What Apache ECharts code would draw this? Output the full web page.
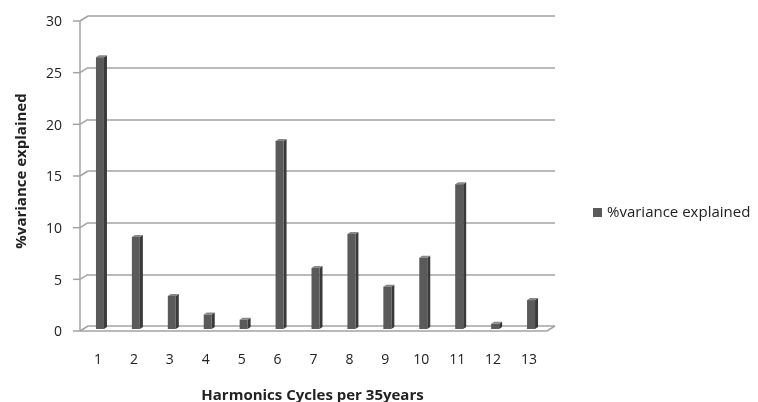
<!DOCTYPE html>
<html>
<head>
<meta charset="utf-8">
<script src="https://cdn.jsdelivr.net/npm/echarts@6/dist/echarts.min.js"></script>
<style>
  html, body { margin: 0; padding: 0; background: #fff; }
  #chart { width: 758px; height: 402px; }
</style>
</head>
<body>
<div id="chart"></div>
<script>
// harmonics 1..13 and % variance explained
const categories = ['1', '2', '3', '4', '5', '6', '7', '8', '9', '10', '11', '12', '13'];
const variance = [26.3, 8.9, 3.2, 1.4, 0.9, 18.2, 5.9, 9.2, 4.1, 6.9, 14.0, 0.5, 2.8];
const yTicks = [0, 5, 10, 15, 20, 25, 30];

const seriesName = '%variance explained';
const font = '"Open Sans", sans-serif';
const lineGray = '#a3a3a3';
const DX = 8, DY = 5;   // front-to-back offset of the 3d frame

const chart = echarts.init(document.getElementById('chart'));

// bars: front face, darker side and light top
function renderBar(params, api) {
    const top = api.coord([api.value(0), api.value(1)]);
    const base = api.coord([api.value(0), 0]);
    const x0 = top[0] - 10, x1 = top[0] - 2;
    const yT = top[1] + 3, yB = base[1] + 3;
    const d = 3, dy = 2;
    return {
        type: 'group',
        children: [
            { type: 'polygon', shape: { points: [[x1, yT], [x1 + d, yT - dy], [x1 + d, yB - dy], [x1, yB]] },
              style: { fill: '#3a3a3a' } },
            { type: 'polygon', shape: { points: [[x0, yT], [x0 + d, yT - dy], [x1 + d, yT - dy], [x1, yT]] },
              style: { fill: '#888888' } },
            { type: 'rect', shape: { x: x0, y: yT, width: x1 - x0, height: yB - yT },
              style: { fill: '#5a5a5a' } }
        ]
    };
}

const option = {
    animation: false,
    grid: { left: 88, right: 203, top: 16, bottom: 76, outerBoundsMode: 'none' },
    legend: {
        data: [{ name: seriesName, icon: 'rect' }],
        left: 593, top: 205, padding: 0,
        itemWidth: 9, itemHeight: 9,
        textStyle: { fontFamily: font, fontSize: 15, color: '#222' }
    },
    xAxis: {
        type: 'category',
        data: categories,
        name: 'Harmonics Cycles per 35years',
        nameLocation: 'middle',
        nameGap: 62,
        nameTextStyle: { fontFamily: font, fontSize: 15, fontWeight: 'bold', color: '#222', padding: [0, 18, 0, 0] },
        axisLine: { show: false },
        axisTick: { show: false },
        axisLabel: { fontFamily: font, fontSize: 14, color: '#222', margin: 27, padding: [0, 16, 0, 0] }
    },
    yAxis: {
        type: 'value',
        min: 0, max: 30, interval: 5,
        name: seriesName,
        nameLocation: 'middle',
        nameGap: 59,
        nameTextStyle: { fontFamily: font, fontSize: 15, fontWeight: 'bold', color: '#222' },
        axisLine: { show: false },
        axisTick: { show: false },
        axisLabel: { fontFamily: font, fontSize: 14, color: '#222', margin: 26, verticalAlign: 'top', lineHeight: 13 },
        splitLine: { lineStyle: { color: lineGray, width: 1.5 } }
    },
    series: [{
        name: seriesName,
        type: 'custom',
        renderItem: renderBar,
        itemStyle: { color: '#5a5a5a' },
        encode: { x: 0, y: 1 },
        data: variance.map((v, i) => [i, v])
    }]
};
chart.setOption(option);

// 3d frame: front axis line, ticks, diagonals and floor
const gLine = { stroke: lineGray, lineWidth: 1.5 };
const elements = [];
const yBack0 = chart.convertToPixel({ yAxisIndex: 0 }, 0);
const yBackTop = chart.convertToPixel({ yAxisIndex: 0 }, 30);
const xL = 88, xR = 555;
elements.push({ type: 'line', shape: { x1: xL - DX, y1: yBackTop + DY, x2: xL - DX, y2: yBack0 + DY }, style: gLine });
yTicks.forEach(t => {
    const y = chart.convertToPixel({ yAxisIndex: 0 }, t);
    elements.push({ type: 'line', shape: { x1: xL - DX - 7, y1: y + DY, x2: xL - DX, y2: y + DY }, style: gLine });
    elements.push({ type: 'line', shape: { x1: xL - DX, y1: y + DY, x2: xL, y2: y }, style: gLine });
});
elements.push({ type: 'polyline', shape: { points: [[xL - DX, yBack0 + DY], [xR - DX, yBack0 + DY], [xR, yBack0]] }, style: Object.assign({ fill: null }, gLine) });
chart.setOption({ graphic: elements });
</script>
</body>
</html>
